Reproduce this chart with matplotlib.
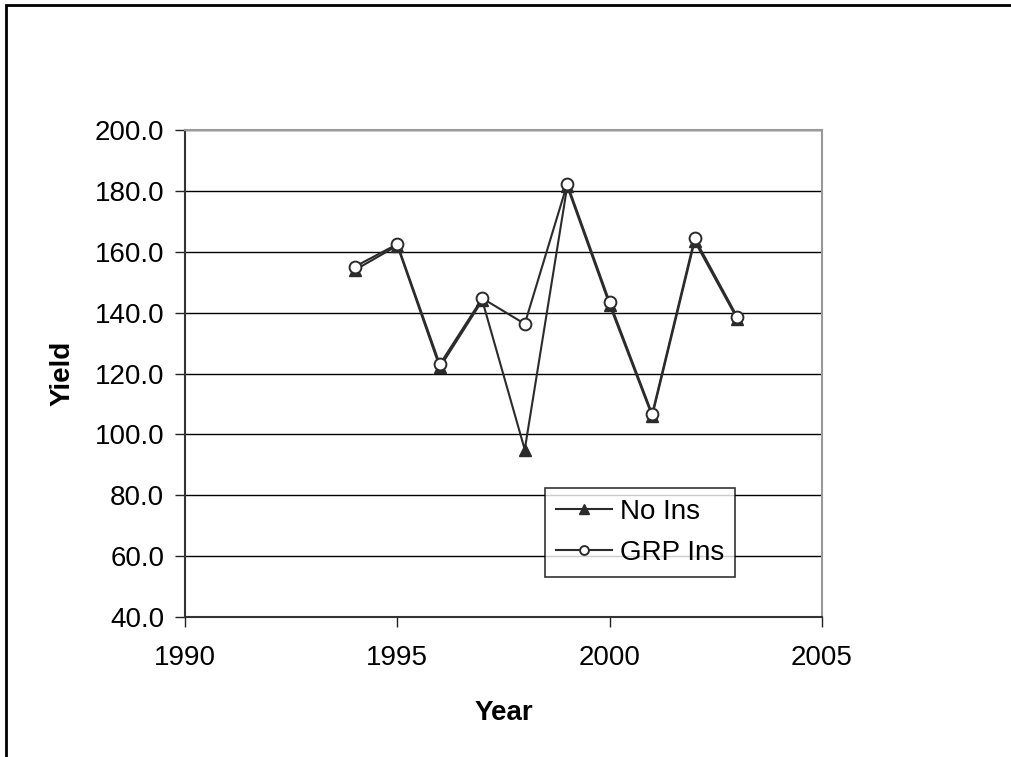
import matplotlib
matplotlib.use("Agg")
import matplotlib.pyplot as plt
from matplotlib.patches import Rectangle

plt.rcParams['font.family'] = ['Liberation Sans', 'DejaVu Sans']

# yields
years = [1994, 1995, 1996, 1997, 1998, 1999, 2000, 2001, 2002, 2003]
no_ins = [154.0, 162.0, 122.0, 144.0, 95.0, 181.5, 142.5, 106.0, 163.5, 138.0]
grp_ins = [155.1, 162.5, 123.0, 144.7, 136.3, 182.3, 143.4, 106.7, 164.4, 138.7]

x_ticks = [1990, 1995, 2000, 2005]
y_ticks = [40, 60, 80, 100, 120, 140, 160, 180, 200]

line_col = "#2b2b2b"
fs = 20

fig = plt.figure(figsize=(10.12, 7.57), dpi=100)
ax = fig.add_axes([0.1828, 0.1849, 0.6295, 0.6434])

ax.plot(years, no_ins, color=line_col, lw=1.5, marker="^", ms=9,
        mfc=line_col, mec=line_col, label="No Ins", zorder=3)
ax.plot(years, grp_ins, color=line_col, lw=1.5, marker="o", ms=8.5,
        mfc="white", mec=line_col, mew=1.4, label="GRP Ins", zorder=4)

ax.set_xlim(1990, 2005)
ax.set_ylim(40, 200)
ax.set_xticks(x_ticks)
ax.set_yticks(y_ticks)
ax.set_yticklabels(["%.1f" % v for v in y_ticks])
ax.yaxis.grid(True, color="black", lw=1.0)
ax.set_axisbelow(True)

for s in ["top", "right"]:
    ax.spines[s].set_color("#999999")
    ax.spines[s].set_linewidth(1.5)
for s in ["left", "bottom"]:
    ax.spines[s].set_color("#333333")
    ax.spines[s].set_linewidth(1.5)

ax.tick_params(axis="both", direction="out", length=7, width=1.0,
               color="#222222", labelsize=fs)
ax.tick_params(axis="y", pad=8)
ax.tick_params(axis="x", pad=13)

ax.set_xlabel("Year", fontsize=fs, fontweight="bold", labelpad=21)
ax.set_ylabel("Yield", fontsize=fs, fontweight="bold", labelpad=14)

leg = ax.legend(loc="lower left", bbox_to_anchor=(0.565, 0.082), fontsize=fs,
                frameon=True, fancybox=False, edgecolor="black",
                handlelength=2.0, handletextpad=0.3, borderpad=0.4,
                labelspacing=0.55, borderaxespad=0, markerscale=0.75)
leg.get_frame().set_linewidth(1.2)

# outer chart border (clipped at right/bottom like the source)
fig.patches.append(Rectangle((0.006, -0.01), 1.2, 1.003, transform=fig.transFigure,
                             fill=False, edgecolor="black", lw=2))

fig.savefig("out.png", dpi=100)
